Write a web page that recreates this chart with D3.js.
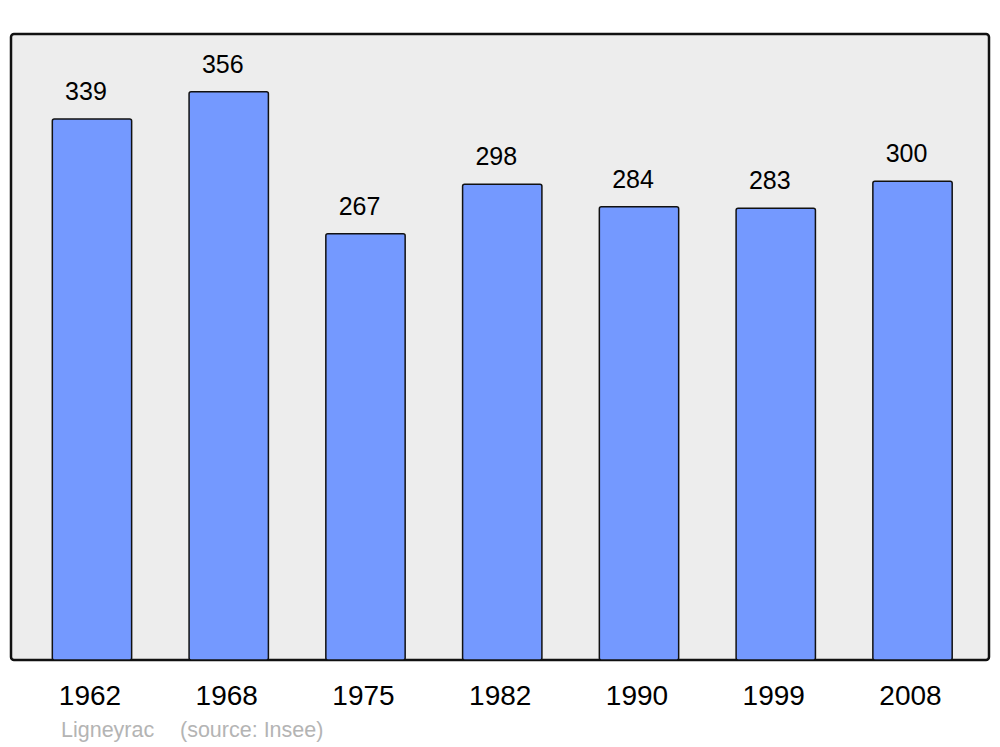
<!DOCTYPE html>
<html><head><meta charset="utf-8">
<script src="https://cdn.jsdelivr.net/npm/d3@7"></script>
<style>body{margin:0;background:#fff}svg{display:block}text{font-family:"Liberation Sans",Arial,sans-serif}</style>
</head><body>
<script>
const years = ["1962","1968","1975","1982","1990","1999","2008"];
const population = [339,356,267,298,284,283,300];
const place = "Ligneyrac";
const source = "(source: Insee)";

const W=1000,H=747;
const svg=d3.select("body").append("svg").attr("width",W).attr("height",H);
const panel={x:11,y:34,w:978,h:626};
svg.append("rect").attr("x",panel.x).attr("y",panel.y).attr("width",panel.w).attr("height",panel.h)
  .attr("rx",3).attr("fill","#ededed").attr("stroke","#111").attr("stroke-width",2.5);

const x=d3.scaleBand().domain(years).range([23.6,980.9]).paddingInner(0.42).paddingOuter(0.21);
const y=d3.scaleLinear().domain([0,392.2]).range([660,34]);

svg.selectAll("rect.bar").data(years).enter().append("rect").attr("class","bar")
  .attr("x",d=>x(d)).attr("width",x.bandwidth())
  .attr("y",(d,i)=>y(population[i])).attr("height",(d,i)=>y(0)-y(population[i]))
  .attr("rx",2).attr("fill","#7499ff").attr("stroke","#111").attr("stroke-width",1.5);

svg.selectAll("text.val").data(years).enter().append("text").attr("class","val")
  .attr("x",d=>x(d)+x.bandwidth()/2-6).attr("y",(d,i)=>y(population[i])-19)
  .attr("text-anchor","middle").attr("font-size",25).attr("fill","#000")
  .text((d,i)=>population[i]);

svg.selectAll("text.yr").data(years).enter().append("text").attr("class","yr")
  .attr("x",d=>x(d)+x.bandwidth()/2-2).attr("y",705)
  .attr("text-anchor","middle").attr("font-size",28).attr("fill","#000").text(d=>d);

svg.append("text").attr("x",61).attr("y",737).attr("font-size",21.5).attr("fill","#b4b4b4").text(place);
svg.append("text").attr("x",180).attr("y",737).attr("font-size",21.5).attr("fill","#b4b4b4").text(source);
</script>
</body></html>
